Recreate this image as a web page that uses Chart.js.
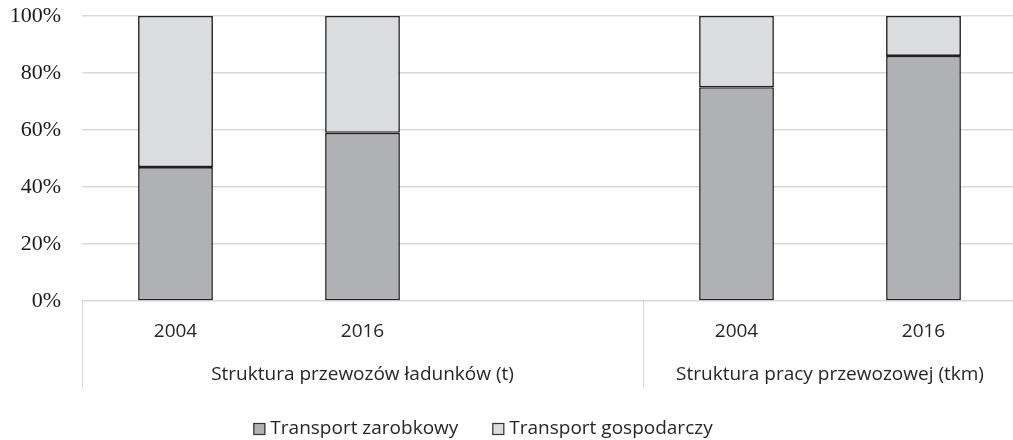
<!DOCTYPE html>
<html><head><meta charset="utf-8">
<script src="https://cdn.jsdelivr.net/npm/chart.js@4/dist/chart.umd.min.js"></script>
<style>html,body{margin:0;padding:0;background:#fff;overflow:hidden;width:1013px;height:440px}
#wrap{position:relative;width:1020px;height:440px}</style>
</head><body><div id="wrap"><canvas id="c" width="1020" height="440"></canvas></div>
<script>
const categories = ['2004', '2016', '', '2004', '2016'];
const groups = [
  { label: 'Struktura przewozów ładunków (t)', from: 0, to: 2 },
  { label: 'Struktura pracy przewozowej (tkm)', from: 3, to: 4 }
];
const zarobkowy = [47, 59, null, 75, 86];
const gospodarczy = [53, 41, null, 25, 14];
const yTicks = [0, 20, 40, 60, 80, 100];

const sansFont = "'Open Sans', Lato, sans-serif";
const textColor = '#262626';
const gridColor = '#d9d9d9';

const groupPlugin = {
  id: 'groups',
  afterDraw(chart) {
    const ctx = chart.ctx;
    const xs = chart.scales.x;
    const n = categories.length;
    const slot = (xs.right - xs.left) / n;
    const top = chart.chartArea.bottom;
    const bottom = top + 87;
    ctx.save();
    ctx.strokeStyle = gridColor;
    ctx.lineWidth = 1;
    const bounds = [xs.left];
    groups.forEach(g => bounds.push(xs.left + (g.to + 1) * slot));
    bounds.forEach(b => {
      const xx = Math.round(b) + 0.5;
      ctx.beginPath(); ctx.moveTo(xx, top); ctx.lineTo(xx, bottom); ctx.stroke();
    });
    ctx.fillStyle = textColor;
    ctx.font = '19px ' + sansFont;
    ctx.textAlign = 'center';
    ctx.textBaseline = 'middle';
    groups.forEach(g => {
      const cx = (xs.getPixelForTick(g.from) + xs.getPixelForTick(g.to)) / 2;
      ctx.fillText(g.label, cx, top + 74);
    });
    const items = chart.data.datasets.map(d => ({ label: d.label, color: d.backgroundColor }));
    ctx.font = '19px ' + sansFont;
    ctx.textAlign = 'left';
    const box = 12, gapBox = 5, gapItem = 34;
    let total = 0;
    items.forEach((it, i) => { total += box + gapBox + ctx.measureText(it.label).width + (i < items.length - 1 ? gapItem : 0); });
    let x = 483 - total / 2;
    const ly = 429;
    items.forEach(it => {
      ctx.fillStyle = it.color;
      ctx.fillRect(x, ly - box / 2, box, box);
      ctx.strokeStyle = '#333333';
      ctx.lineWidth = 1.2;
      ctx.strokeRect(x + 0.5, ly - box / 2 + 0.5, box - 1, box - 1);
      ctx.fillStyle = textColor;
      ctx.fillText(it.label, x + box + gapBox, ly);
      x += box + gapBox + ctx.measureText(it.label).width + gapItem;
    });
    ctx.restore();
  }
};

new Chart(document.getElementById('c'), {
  type: 'bar',
  data: {
    labels: categories,
    datasets: [
      { label: 'Transport zarobkowy', data: zarobkowy, backgroundColor: '#b0b1b4', borderColor: '#231f20', borderWidth: 1.6, borderSkipped: false },
      { label: 'Transport gospodarczy', data: gospodarczy, backgroundColor: '#dbdcde', borderColor: '#231f20', borderWidth: 1.6, borderSkipped: false }
    ]
  },
  options: {
    responsive: false,
    animation: false,
    layout: { padding: { top: 16, right: 3, bottom: 52, left: 0 }, autoPadding: false },
    plugins: { legend: { display: false }, tooltip: { enabled: false } },
    datasets: { bar: { barPercentage: 0.4, categoryPercentage: 1 } },
    scales: {
      x: {
        stacked: true,
        grid: { display: false, drawTicks: false },
        border: { display: false },
        ticks: { color: textColor, font: { family: sansFont, size: 19 }, padding: 19, maxRotation: 0, autoSkip: false },
        afterFit(s) { s.height = 87; s.paddingLeft = 0; s.paddingRight = 0; }
      },
      y: {
        stacked: true,
        min: 0, max: 100,
        afterBuildTicks(s) { s.ticks = yTicks.map(v => ({ value: v })); },
        grid: { color: gridColor, lineWidth: 1.5, drawTicks: false },
        border: { display: false },
        ticks: { color: '#1a1a1a', font: { family: "'Liberation Serif', 'Times New Roman', serif", size: 22 }, padding: 21, callback: v => v + '%' },
        afterFit(s) { s.width = 82; s.paddingTop = 0; s.paddingBottom = 0; }
      }
    }
  },
  plugins: [groupPlugin]
});
</script></body></html>
